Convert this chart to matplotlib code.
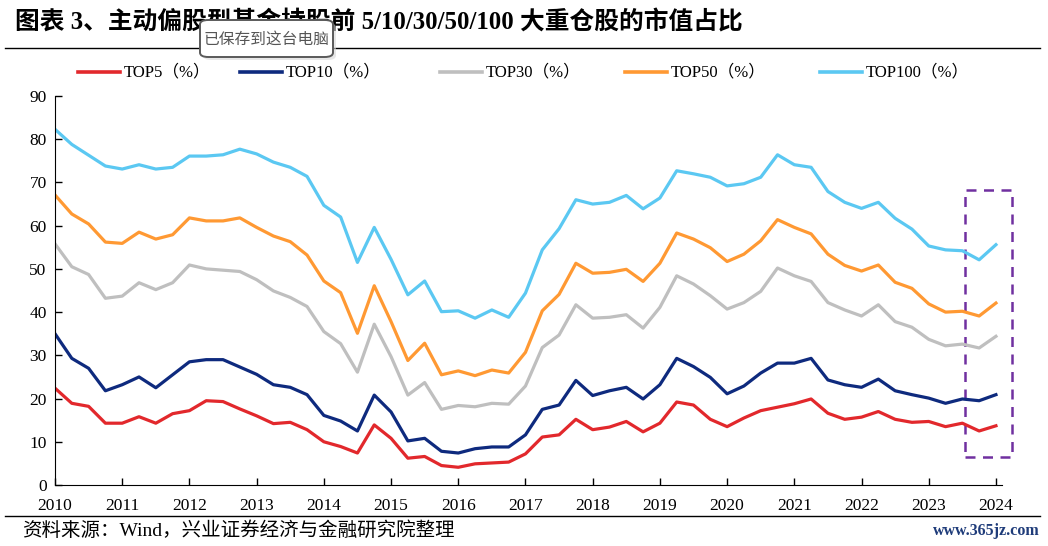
import numpy as np
import matplotlib
matplotlib.use("Agg")
import matplotlib.pyplot as plt
from matplotlib.patches import Rectangle, FancyBboxPatch
from matplotlib.lines import Line2D

plt.rcParams['font.family'] = ['Liberation Serif', 'Noto Sans CJK SC', 'DejaVu Sans']

# quarterly points, 2010Q0 .. 2024Q0
quarters = 2010 + np.arange(57) / 4

top100 = [82.3, 78.8, 76.3, 73.8, 73.1, 74.1, 73.1, 73.5, 76.1, 76.1, 76.4, 77.7,
          76.6, 74.7, 73.5, 71.4, 64.7, 62.0, 51.5, 59.6, 52.2, 44.0, 47.2,
          40.1, 40.3, 38.6, 40.5, 38.8, 44.4, 54.4, 59.3, 66.0, 65.0, 65.4,
          67.0,
          63.9, 66.4, 72.7, 72.0, 71.2, 69.2, 69.7, 71.2, 76.4, 74.1, 73.5,
          67.9, 65.4, 64.0, 65.4, 61.7, 59.2, 55.3, 54.4, 54.2, 52.1, 55.6]
top50 = [67.1, 62.7, 60.4, 56.2, 55.9, 58.5, 56.9, 57.9, 61.8, 61.1, 61.1, 61.8,
         59.6, 57.6, 56.3, 53.2, 47.2, 44.5, 35.1, 46.1, 37.8, 28.8, 32.8,
         25.5, 26.4, 25.3, 26.6, 25.9, 30.7, 40.3, 44.1, 51.3, 49.0, 49.2,
         49.9,
         47.1, 51.3, 58.3, 56.9, 54.9, 51.7, 53.4, 56.5, 61.4, 59.6, 58.1,
         53.4, 50.8, 49.5, 50.9, 46.9, 45.5, 41.9, 40.0, 40.2, 39.1, 42.1]
top30 = [55.8, 50.5, 48.7, 43.2, 43.7, 46.8, 45.2, 46.8, 50.9, 50.0, 49.7, 49.4,
         47.5, 44.9, 43.4, 41.3, 35.5, 32.7, 26.1, 37.2, 29.7, 20.8, 23.7,
         17.5, 18.4, 18.1, 18.9, 18.7, 22.9, 31.8, 34.7, 41.7, 38.6, 38.8,
         39.4,
         36.3, 41.1, 48.4, 46.5, 43.8, 40.7, 42.2, 44.8, 50.2, 48.4, 47.1,
         42.2, 40.5, 39.1, 41.7, 37.8, 36.5, 33.7, 32.2, 32.6, 31.7, 34.4]
top10 = [35.0, 29.3, 27.0, 21.8, 23.2, 25.0, 22.5, 25.5, 28.5, 29.0, 29.0, 27.3,
         25.6, 23.2, 22.6, 20.9, 16.1, 14.8, 12.5, 20.8, 16.9, 10.2, 10.8,
         7.8, 7.4, 8.4, 8.8, 8.8, 11.6, 17.5, 18.5, 24.2, 20.7, 21.8,
         22.6,
         19.9, 23.2, 29.3, 27.4, 24.9, 21.1, 22.9, 25.9, 28.2, 28.2, 29.3,
         24.3, 23.2, 22.6, 24.5, 21.8, 20.9, 20.1, 18.9, 19.9, 19.5, 20.9]
top5 = [22.4, 18.9, 18.2, 14.3, 14.3, 15.8, 14.3, 16.5, 17.2, 19.5, 19.3, 17.6,
        16.0, 14.2, 14.5, 12.8, 10.0, 8.9, 7.4, 13.9, 10.8, 6.2, 6.6,
        4.5, 4.1, 4.9, 5.1, 5.3, 7.2, 11.1, 11.6, 15.2, 12.8, 13.4,
        14.7,
        12.3, 14.3, 19.2, 18.5, 15.2, 13.5, 15.5, 17.2, 18.0, 18.8, 19.9,
        16.6, 15.2, 15.7, 17.0, 15.2, 14.5, 14.7, 13.5, 14.3, 12.5, 13.7]

labels = ["TOP5（%）", "TOP10（%）", "TOP30（%）", "TOP50（%）", "TOP100（%）"]
colors = ["#E2282C", "#0E2A7E", "#BFBFBF", "#FF9933", "#5BC8F2"]
year_ticks = list(range(2010, 2025))

W, H = 1048, 546
fig = plt.figure(figsize=(W / 100, H / 100), dpi=100)
ax = fig.add_axes([55 / W, 61 / H, 947 / W, 389 / H])

for vals, c, lab in zip([top5, top10, top30, top50, top100], colors, labels):
    ax.plot(quarters, vals, color=c, lw=2.3, label=lab)

ax.set_xlim(2010, 2024.09)
ax.set_ylim(0, 90)
ax.set_yticks(range(0, 91, 10))
ax.set_xticks(year_ticks)
ax.tick_params(direction='in', length=5, width=1, labelsize=12.5, pad=6)
ax.tick_params(axis='x', pad=9)
for s in ['top', 'right']:
    ax.spines[s].set_visible(False)

# highlight box around latest quarters
ax.add_patch(Rectangle((2023.54, 6.5), 0.70, 61.8, fill=False, ls=(0, (4, 3)),
                       lw=1.8, ec="#7030A0", clip_on=False))

# legend, placed entry by entry (pixel x of each handle start)
leg_x = [78, 240, 440, 625, 820]
leg_y = 1 - 72 / H
for x0, c, lab in zip(leg_x, colors, labels):
    fig.add_artist(Line2D([x0 / W, (x0 + 42) / W], [leg_y] * 2, color=c, lw=2.6))
    fig.text((x0 + 46) / W, leg_y, lab, fontsize=12, va='center', ha='left')

# title + rules
fig.text(15 / W, 1 - 22 / H, "图表 3、主动偏股型基金持股前 5/10/30/50/100 大重仓股的市值占比",
         fontsize=17.8, fontweight='bold', va='center', ha='left')
fig.add_artist(Line2D([5 / W, 1040 / W], [1 - 48 / H] * 2, color='black', lw=1))
fig.add_artist(Line2D([5 / W, 1040 / W], [1 - 516 / H] * 2, color='black', lw=1))

fig.text(22 / W, 1 - 531 / H, "资料来源：Wind，兴业证券经济与金融研究院整理",
         fontsize=14, va='center', ha='left')
fig.text(1040 / W, 1 - 531 / H, "www.365jz.com", fontsize=11.5, color="#1F3C7A",
         fontweight='bold', va='center', ha='right')

# "saved" toast overlay, sits on top of the title
shadow = FancyBboxPatch((203 / W, 1 - 60 / H), 133 / W, 37 / H,
                        boxstyle="round,pad=0,rounding_size=0.008",
                        transform=fig.transFigure, fc='#d8d8d8', ec='none',
                        alpha=0.6, zorder=10)
fig.add_artist(shadow)
toast = FancyBboxPatch((200 / W, 1 - 57 / H), 133 / W, 37 / H,
                       boxstyle="round,pad=0,rounding_size=0.008",
                       transform=fig.transFigure, fc='white', ec='#5a5a5a',
                       lw=1.4, zorder=11)
fig.add_artist(toast)
fig.text(266.5 / W, 1 - 39 / H, "已保存到这台电脑", fontsize=11.3, color='#555555',
         family=['Noto Sans CJK SC', 'DejaVu Sans'], va='center', ha='center',
         zorder=12)

fig.savefig("out.png", dpi=100)
